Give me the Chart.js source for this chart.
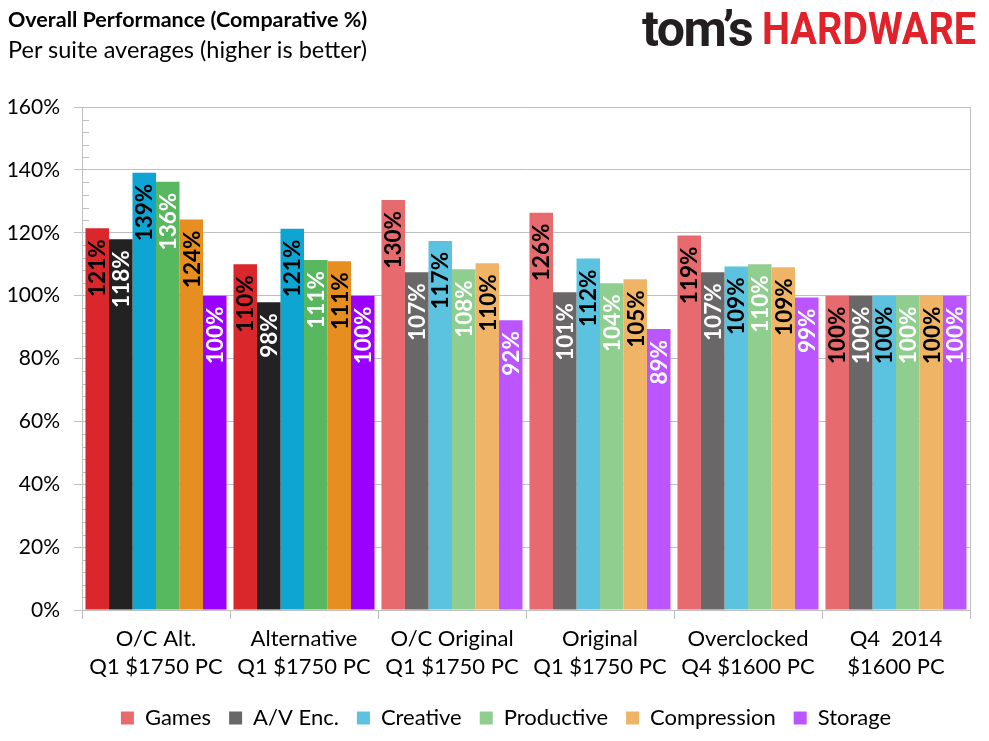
<!DOCTYPE html>
<html>
<head>
<meta charset="utf-8">
<script src="https://cdn.jsdelivr.net/npm/chart.js@4.4.1/dist/chart.umd.min.js"></script>
<style>
  html, body { margin: 0; padding: 0; background: #fff; }
  #wrap { position: relative; width: 989px; height: 741px; overflow: hidden; }
  #chart { position: absolute; left: 0; top: 0; }
  .title { position: absolute; left: 8px; top: 6px; font: bold 21.5px Lato, sans-serif; color: #000; white-space: nowrap; }
  .sub { position: absolute; left: 8px; top: 35px; font: 23.5px Lato, sans-serif; color: #000; white-space: nowrap; }
  .tom { position: absolute; left: 642px; top: 0px; font: bold 50px Roboto, sans-serif; color: #231f20; white-space: nowrap; letter-spacing: -1.5px; }
  .hw { position: absolute; left: 762px; top: 3px; font: bold 44px Roboto, sans-serif; color: #e2222b; white-space: nowrap;
        transform: scaleX(0.9); transform-origin: left top; }
</style>
</head>
<body>
<div id="wrap">
  <canvas id="chart" width="989" height="741"></canvas>
  <div class="title">Overall Performance (Comparative %)</div>
  <div class="sub">Per suite averages (higher is better)</div>
  <div class="tom">tom’s</div>
  <div class="hw">HARDWARE</div>
</div>
<script>
// categories (two-line labels)
const categories = [
  ['O/C Alt.', 'Q1 $1750 PC'],
  ['Alternative', 'Q1 $1750 PC'],
  ['O/C Original', 'Q1 $1750 PC'],
  ['Original', 'Q1 $1750 PC'],
  ['Overclocked', 'Q4 $1600 PC'],
  ['Q4  2014', '$1600 PC']
];

// series values (% of baseline)
const games       = [121.4, 110.0, 130.4, 126.4, 119.1, 100];
const avEnc       = [117.9,  97.9, 107.4, 101.1, 107.4, 100];
const creative    = [139.1, 121.3, 117.4, 111.8, 109.3, 100];
const productive  = [136.2, 111.3, 108.4, 103.9, 110.0, 100];
const compression = [124.2, 110.9, 110.3, 105.2, 109.0, 100];
const storage     = [100.0, 100.0,  92.2,  89.4,  99.4, 100];

const seriesNames = ['Games', 'A/V Enc.', 'Creative', 'Productive', 'Compression', 'Storage'];
const seriesData  = [games, avEnc, creative, productive, compression, storage];

// first two groups use the strong colours, the rest the light ones
const strongColors = ['#d9272b', '#222222', '#0ea5d2', '#58b85f', '#e68e1f', '#9a00ff'];
const lightColors  = ['#e76a6e', '#6a6768', '#5bc3e0', '#8fce8f', '#f0b466', '#bb55ff'];
const labelColors  = ['#000', '#fff', '#000', '#fff', '#000', '#fff'];
const strongGroups = 2;

const yTicks = [0, 20, 40, 60, 80, 100, 120, 140, 160];

const datasets = seriesNames.map((name, i) => ({
  label: name,
  data: seriesData[i],
  backgroundColor: categories.map((_, g) => g < strongGroups ? strongColors[i] : lightColors[i]),
  borderWidth: 0,
  categoryPercentage: 0.953,
  barPercentage: 1.0
}));

// minor tick marks inside the plot, every 4%
const minorTicks = {
  id: 'minorTicks',
  beforeDatasetsDraw(chart) {
    const y = chart.scales.y, ctx = chart.ctx, left = chart.chartArea.left;
    ctx.save();
    ctx.strokeStyle = '#bfbfbf';
    ctx.lineWidth = 1;
    for (let v = 4; v < 160; v += 4) {
      if (v % 20 === 0) continue;
      const py = Math.round(y.getPixelForValue(v)) + 0.5;
      ctx.beginPath();
      ctx.moveTo(left, py);
      ctx.lineTo(left + 7, py);
      ctx.stroke();
    }
    ctx.restore();
  }
};

// centre the legend under the plot area rather than the whole canvas
const legendShift = {
  id: 'legendShift',
  afterLayout(chart) {
    const lg = chart.legend, ca = chart.chartArea;
    const dx = (ca.left + ca.right) / 2 - (lg.left + lg.right) / 2 - 20;
    lg.left += dx;
    lg.right += dx;
  }
};

// rotated value labels inside the top of each bar
const barLabels = {
  id: 'barLabels',
  afterDatasetsDraw(chart) {
    const ctx = chart.ctx;
    ctx.save();
    ctx.font = 'bold 22.5px Lato, sans-serif';
    ctx.textAlign = 'right';
    ctx.textBaseline = 'middle';
    chart.data.datasets.forEach((ds, i) => {
      const meta = chart.getDatasetMeta(i);
      meta.data.forEach((bar, j) => {
        ctx.save();
        ctx.translate(bar.x + 1, bar.y + 11);
        ctx.rotate(-Math.PI / 2);
        ctx.fillStyle = labelColors[i];
        ctx.fillText(Math.round(ds.data[j]) + '%', 0, 0);
        ctx.restore();
      });
    });
    ctx.restore();
  }
};

new Chart(document.getElementById('chart').getContext('2d'), {
  type: 'bar',
  data: { labels: categories, datasets },
  plugins: [minorTicks, barLabels, legendShift],
  options: {
    responsive: false,
    animation: false,
    layout: { padding: { top: 107, right: 19, left: 0, bottom: 2 } },
    plugins: {
      title: { display: false },
      tooltip: { enabled: false },
      legend: {
        position: 'bottom',
        labels: {
          color: '#000',
          font: { family: 'Lato', size: 22 },
          boxWidth: 13,
          boxHeight: 13,
          padding: 18,
          generateLabels: (chart) => seriesNames.map((n, i) => ({
            text: n,
            fillStyle: lightColors[i],
            strokeStyle: lightColors[i],
            lineWidth: 0,
            datasetIndex: i
          }))
        }
      }
    },
    scales: {
      x: {
        grid: { offset: true, drawOnChartArea: false, drawTicks: true, tickLength: 9, color: '#bfbfbf' },
        border: { color: '#bfbfbf' },
        ticks: { color: '#000', font: { family: 'Lato', size: 22, lineHeight: 1.27 }, padding: 6, maxRotation: 0, autoSkip: false },
        afterFit: (s) => { s.height = 79; }
      },
      y: {
        min: 0,
        max: 160,
        afterBuildTicks: (s) => { s.ticks = yTicks.map(v => ({ value: v })); },
        grid: { color: '#bfbfbf', tickLength: 8 },
        border: { color: '#bfbfbf' },
        ticks: { color: '#000', font: { family: 'Lato', size: 21 }, padding: 14, callback: (v) => v + '%' },
        afterFit: (s) => { s.width = 82; }
      },
      yR: {
        position: 'right',
        min: 0,
        max: 160,
        grid: { drawOnChartArea: false, drawTicks: false },
        border: { color: '#bfbfbf' },
        ticks: { display: false },
        afterFit: (s) => { s.width = 0; }
      }
    }
  }
});
</script>
</body>
</html>
